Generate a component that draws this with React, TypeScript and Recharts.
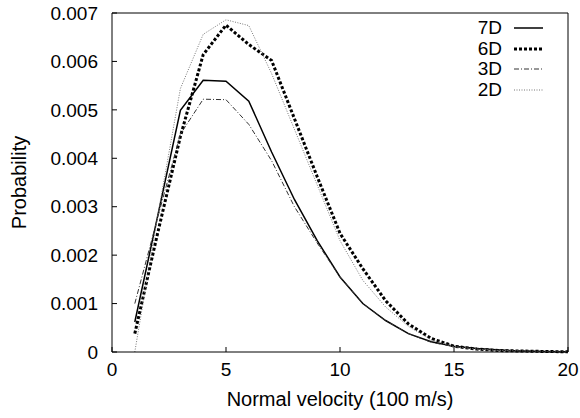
import React from 'react';
import { LineChart, Line, XAxis, YAxis, Legend, Label } from 'recharts';

// Normal velocity (100 m/s)
const velocity = [1, 2, 3, 4, 5, 6, 7, 8, 9, 10, 11, 12, 13, 14, 15, 16, 17, 18, 19, 20];
// Probability per series
const p7D = [0.00062, 0.0028, 0.00499, 0.00561, 0.00559, 0.00518, 0.00413, 0.00315, 0.0023, 0.00155, 0.001, 0.00065, 0.00038, 0.00021, 0.00012, 0.00007, 0.00004, 0.00002, 0.00001, 0.000005];
const p6D = [0.00038, 0.00245, 0.00445, 0.00614, 0.00675, 0.00635, 0.00602, 0.00482, 0.00362, 0.00245, 0.00172, 0.00106, 0.00058, 0.00028, 0.00012, 0.00006, 0.00003, 0.00002, 0.00001, 0.000005];
const p3D = [0.001, 0.00277, 0.0045, 0.00522, 0.00521, 0.0047, 0.00395, 0.003, 0.00225, 0.00155, 0.001, 0.00065, 0.00038, 0.0002, 0.00011, 0.00006, 0.00003, 0.00002, 0.00001, 0.000005];
const p2D = [0.0, 0.0028, 0.00544, 0.00656, 0.00686, 0.00674, 0.00575, 0.0046, 0.00345, 0.0023, 0.00148, 0.00093, 0.00053, 0.00025, 0.00011, 0.00006, 0.00003, 0.00002, 0.00001, 0.000005];

const xTicks = [0, 5, 10, 15, 20];
const yTicks = [0, 0.001, 0.002, 0.003, 0.004, 0.005, 0.006, 0.007];
const seriesNames = ['7D', '6D', '3D', '2D'];

const data = velocity.map((v, i) => ({
  v,
  s7: p7D[i],
  s6: p6D[i],
  s3: p3D[i],
  s2: p2D[i],
}));

const FONT = '"Liberation Sans", Arial, sans-serif';

const styles = [
  { key: 's7', stroke: '#000000', width: 1.5, dash: undefined as string | undefined },
  { key: 's6', stroke: '#000000', width: 3, dash: '3 2' },
  { key: 's3', stroke: '#333333', width: 1, dash: '5 2 1 2' },
  { key: 's2', stroke: '#777777', width: 1, dash: '1 1.5' },
];

function LegendContent() {
  return (
    <div style={{ fontFamily: FONT, fontSize: 19, color: '#000' }}>
      {seriesNames.map((name, i) => (
        <div key={name} style={{ display: 'flex', alignItems: 'center', height: 20.5 }}>
          <span style={{ width: 40, textAlign: 'right', lineHeight: '20px' }}>{name}</span>
          <svg width={32} height={10} style={{ marginLeft: 12 }}>
            <line
              x1={0}
              x2={29}
              y1={5}
              y2={5}
              stroke={styles[i].stroke}
              strokeWidth={styles[i].width}
              strokeDasharray={styles[i].dash}
            />
          </svg>
        </div>
      ))}
    </div>
  );
}

function YLabel(props: any) {
  const vb = props.viewBox || { x: 0, y: 0, width: 0, height: 0 };
  const cx = vb.x + 19;
  const cy = vb.y + vb.height / 2;
  return (
    <text
      x={cx}
      y={cy}
      transform={`rotate(-90, ${cx}, ${cy})`}
      textAnchor="middle"
      dominantBaseline="central"
      fontSize={20}
      fontFamily={FONT}
      fill="#000"
    >
      Probability
    </text>
  );
}

const fmtY = (v: number) => (v === 0 ? '0' : v.toFixed(3));

export default function App() {
  return (
    <div style={{ position: 'absolute', left: 0, top: 0, width: 580, height: 418, background: '#fff', fontFamily: FONT }}>
      <LineChart width={580} height={418} data={data} margin={{ top: 12, right: 11, bottom: 26, left: 0 }}>
        <XAxis
          xAxisId="b"
          dataKey="v"
          type="number"
          domain={[0, 20]}
          ticks={xTicks}
          tickSize={-5}
          tickMargin={15.5}
          height={40}
          stroke="#000"
          tick={{ fill: '#000', fontSize: 19, fontFamily: FONT }}
          interval={0}
        >
          <Label value="Normal velocity (100 m/s)" position="bottom" offset={0} fill="#000" fontSize={20} fontFamily={FONT} />
        </XAxis>
        <XAxis
          xAxisId="t"
          orientation="top"
          dataKey="v"
          type="number"
          domain={[0, 20]}
          ticks={xTicks}
          tickSize={-5}
          height={1}
          stroke="#000"
          tick={false}
          interval={0}
        />
        <YAxis
          yAxisId="l"
          type="number"
          domain={[0, 0.007]}
          ticks={yTicks}
          tickFormatter={fmtY}
          tickSize={-5}
          tickMargin={19}
          width={112}
          stroke="#000"
          tick={{ fill: '#000', fontSize: 19, fontFamily: FONT }}
          interval={0}
        >
          <Label content={YLabel} />
        </YAxis>
        <YAxis
          yAxisId="r"
          orientation="right"
          type="number"
          domain={[0, 0.007]}
          ticks={yTicks}
          tickSize={-5}
          width={1}
          stroke="#000"
          tick={false}
          interval={0}
        />
        {styles.map((s, i) => (
          <Line
            key={s.key}
            xAxisId="b"
            yAxisId="l"
            dataKey={s.key}
            name={seriesNames[i]}
            type="linear"
            stroke={s.stroke}
            strokeWidth={s.width}
            strokeDasharray={s.dash}
            dot={false}
            activeDot={false}
            isAnimationActive={false}
          />
        ))}
        <Line
          xAxisId="t"
          yAxisId="r"
          dataKey="s7"
          stroke="none"
          dot={false}
          activeDot={false}
          legendType="none"
          isAnimationActive={false}
        />
        <Legend
          layout="vertical"
          align="center"
          verticalAlign="middle"
          content={<LegendContent />}
          wrapperStyle={{ left: 462, top: 18, width: 100, height: 84 }}
        />
      </LineChart>
    </div>
  );
}
